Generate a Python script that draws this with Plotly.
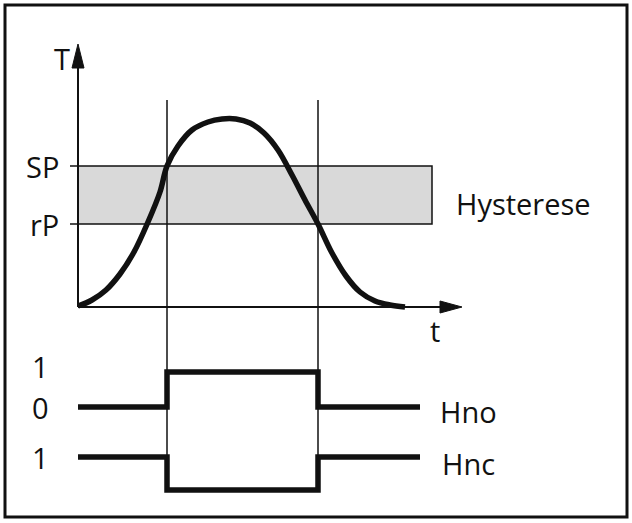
import plotly.graph_objects as go

# Diagram geometry (pixel units, y grows downward)
curve_x = [78, 92, 106, 120, 134, 148, 160, 167, 178, 192, 208, 222, 236, 250, 264, 278, 292, 305, 318, 332, 346, 360, 375, 390, 405]
curve_y = [306, 300, 290, 274, 252, 222, 192, 166, 146, 130, 122, 119, 119, 123, 133, 150, 175, 200, 224, 253, 276, 292, 301, 305, 307]

switch_x = [78, 167, 167, 318, 318, 420]
hno_y = [407, 407, 372, 372, 407, 407]
hnc_y = [457, 457, 490, 490, 457, 457]

sp_y, rp_y = 166, 224
left_levels = ["SP", "rP"]
switch_labels = ["Hno", "Hnc"]

fig = go.Figure()
ink = "#111111"
font = dict(family="Open Sans, DejaVu Sans", size=29, color=ink)

shapes = [
    dict(type="rect", x0=5, y0=5, x1=627, y1=517, line=dict(color=ink, width=3)),
    dict(type="rect", x0=78, y0=sp_y, x1=432, y1=rp_y, fillcolor="#d9d9d9", line=dict(color=ink, width=1.5), layer="below"),
    dict(type="line", x0=78, y0=307, x1=78, y1=60, line=dict(color=ink, width=2)),
    dict(type="line", x0=78, y0=307, x1=448, y1=307, line=dict(color=ink, width=2)),
    dict(type="line", x0=167, y0=100, x1=167, y1=492, line=dict(color=ink, width=1.5)),
    dict(type="line", x0=318, y0=100, x1=318, y1=492, line=dict(color=ink, width=1.5)),
    dict(type="line", x0=70, y0=sp_y, x1=78, y1=sp_y, line=dict(color=ink, width=1.5)),
    dict(type="line", x0=70, y0=rp_y, x1=78, y1=rp_y, line=dict(color=ink, width=1.5)),
    dict(type="path", path="M 72 68 L 78 44 L 84 68 Z", fillcolor=ink, line=dict(color=ink, width=1)),
    dict(type="path", path="M 440 301 L 462 307 L 440 313 Z", fillcolor=ink, line=dict(color=ink, width=1)),
]

fig.add_trace(go.Scatter(x=curve_x, y=curve_y, mode="lines", line=dict(color=ink, width=5.5, shape="spline")))
fig.add_trace(go.Scatter(x=switch_x, y=hno_y, mode="lines", line=dict(color=ink, width=5.5)))
fig.add_trace(go.Scatter(x=switch_x, y=hnc_y, mode="lines", line=dict(color=ink, width=5.5)))

ann = [
    (62, 58, "T"), (435, 330, "t"),
    (42, sp_y, left_levels[0]), (44, rp_y, left_levels[1]),
    (40, 366, "1"), (40, 407, "0"), (40, 457, "1"),
    (523, 203, "Hysterese"),
    (468, 411, switch_labels[0]), (468, 463, switch_labels[1]),
]
annotations = [dict(x=x, y=y, text=t, showarrow=False, font=font, xanchor="center", yanchor="middle") for x, y, t in ann]

fig.update_layout(
    width=632, height=523, margin=dict(l=0, r=0, t=0, b=0),
    paper_bgcolor="white", plot_bgcolor="white", showlegend=False,
    xaxis=dict(range=[0, 632], visible=False, fixedrange=True),
    yaxis=dict(range=[523, 0], visible=False, fixedrange=True),
    shapes=shapes, annotations=annotations,
)
fig.write_html("out.html", config=dict(displayModeBar=False),
               post_script="document.body.style.margin='0';document.body.style.overflow='hidden';")
